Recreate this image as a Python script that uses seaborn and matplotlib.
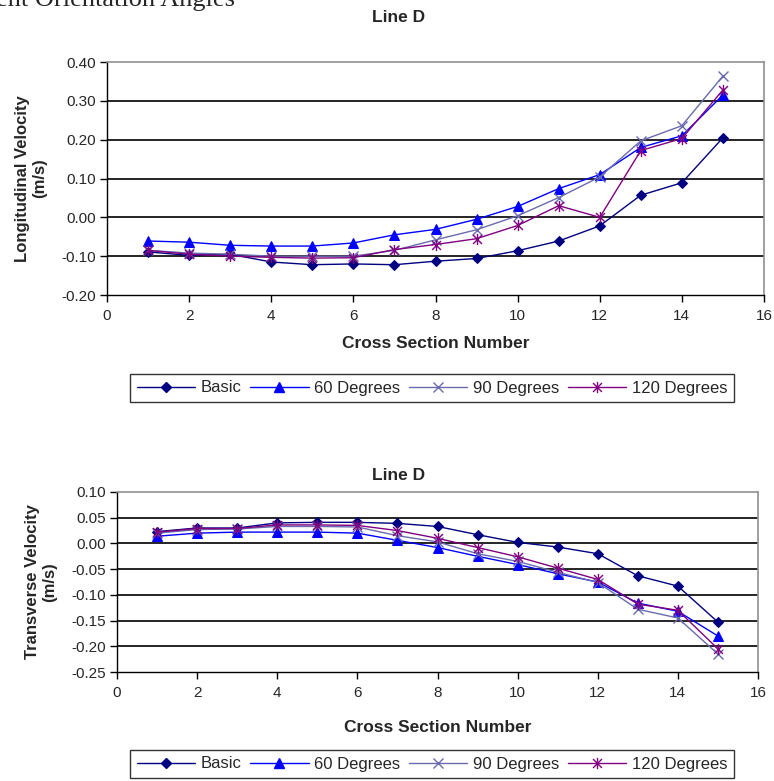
import matplotlib
matplotlib.use("Agg")
import matplotlib.pyplot as plt
from matplotlib.path import Path
from matplotlib.lines import Line2D
import seaborn as sns

sns.set_style("white")
plt.rcParams['font.family'] = ['Liberation Sans', 'DejaVu Sans']

cross_section = [1, 2, 3, 4, 5, 6, 7, 8, 9, 10, 11, 12, 13, 14, 15]
series_names = ["Basic", "60 Degrees", "90 Degrees", "120 Degrees"]

long_basic = [-0.089, -0.098, -0.095, -0.115, -0.122, -0.120, -0.122, -0.113, -0.106, -0.086, -0.061, -0.022, 0.057, 0.089, 0.205]
long_60 = [-0.061, -0.064, -0.072, -0.074, -0.074, -0.066, -0.045, -0.031, -0.005, 0.028, 0.074, 0.110, 0.180, 0.210, 0.315]
long_90 = [-0.085, -0.092, -0.095, -0.100, -0.100, -0.100, -0.085, -0.058, -0.032, 0.004, 0.051, 0.104, 0.197, 0.236, 0.364]
long_120 = [-0.085, -0.095, -0.100, -0.103, -0.105, -0.104, -0.083, -0.070, -0.055, -0.021, 0.030, 0.000, 0.172, 0.203, 0.328]

trans_basic = [0.023, 0.030, 0.030, 0.040, 0.041, 0.041, 0.039, 0.033, 0.017, 0.002, -0.007, -0.020, -0.063, -0.083, -0.153]
trans_60 = [0.014, 0.020, 0.022, 0.022, 0.022, 0.020, 0.006, -0.008, -0.025, -0.041, -0.059, -0.075, -0.116, -0.132, -0.180]
trans_90 = [0.020, 0.027, 0.028, 0.033, 0.033, 0.032, 0.015, 0.003, -0.020, -0.035, -0.056, -0.076, -0.128, -0.145, -0.215]
trans_120 = [0.022, 0.029, 0.029, 0.036, 0.036, 0.035, 0.025, 0.010, -0.008, -0.026, -0.048, -0.070, -0.118, -0.130, -0.205]

long_yticks = [-0.20, -0.10, 0.00, 0.10, 0.20, 0.30, 0.40]
trans_yticks = [-0.25, -0.20, -0.15, -0.10, -0.05, 0.00, 0.05, 0.10]
xticks = [0, 2, 4, 6, 8, 10, 12, 14, 16]

star = Path([(0, -1), (0, 1), (-0.8, -0.8), (0.8, 0.8), (-0.8, 0.8), (0.8, -0.8)],
            [Path.MOVETO, Path.LINETO, Path.MOVETO, Path.LINETO, Path.MOVETO, Path.LINETO])

styles = [
    dict(color="#000080", marker="D", markersize=5.5, mfc="#000080", mec="#000080"),
    dict(color="#0000FF", marker="^", markersize=7, mfc="#0000FF", mec="#0000FF"),
    dict(color="#6A6AB0", marker="x", markersize=7, mfc="none", mec="#6A6AB0", mew=1.0),
    dict(color="#800080", marker=star, markersize=8, mfc="none", mec="#800080", mew=1.0),
]

fig = plt.figure(figsize=(7.74, 7.81), dpi=100)
W, H = 774, 781

def px_axes(l, t, r, b):
    return fig.add_axes([l / W, 1 - b / H, (r - l) / W, (b - t) / H])

def draw(ax, box, data, yticks, ylabel, ylab_x, xlab_y):
    l, t, r, b = box
    for name, vals, st in zip(series_names, data, styles):
        sns.lineplot(x=cross_section, y=vals, ax=ax, lw=1.0, legend=False, **st)
    ax.set_xlim(0, 16)
    ax.set_ylim(yticks[0], yticks[-1])
    ax.set_xticks(xticks)
    ax.set_yticks(yticks)
    ax.set_yticklabels([f"{v:.2f}" for v in yticks], fontsize=11)
    ax.set_xticklabels([str(v) for v in xticks], fontsize=11)
    for y in yticks[1:-1]:
        ax.axhline(y, color="black", lw=1.2, zorder=0)
    for s in ["top", "right"]:
        ax.spines[s].set_color("#909090")
        ax.spines[s].set_linewidth(1.2)
    for s in ["left", "bottom"]:
        ax.spines[s].set_color("black")
        ax.spines[s].set_linewidth(1.0)
    ax.tick_params(axis="both", direction="out", length=5, width=1, color="black",
                   bottom=True, left=True)
    ax.tick_params(axis="x", pad=5)
    ax.tick_params(axis="y", pad=3)
    ax.set_xlabel("Cross Section Number", fontsize=12.5, fontweight="bold", va="center")
    ax.xaxis.set_label_coords(0.5, (b - xlab_y) / (b - t))
    ax.set_ylabel(ylabel, fontsize=12, fontweight="bold", linespacing=1.15, va="center")
    ax.yaxis.set_label_coords((ylab_x - l) / (r - l), 0.5)

box1 = (107, 62, 764, 295)
ax1 = px_axes(*box1)
draw(ax1, box1, [long_basic, long_60, long_90, long_120], long_yticks,
     "Longitudinal Velocity\n(m/s)", 31, 344)
box2 = (117, 492, 758, 672)
ax2 = px_axes(*box2)
draw(ax2, box2, [trans_basic, trans_60, trans_90, trans_120], trans_yticks,
     "Transverse Velocity\n(m/s)", 41, 727)

fig.text(399 / W, 1 - 17 / H, "Line D", ha="center", va="center", fontsize=12.5, fontweight="bold")
fig.text(399 / W, 1 - 476 / H, "Line D", ha="center", va="center", fontsize=12.5, fontweight="bold")
fig.text(-4 / W, 1 - 6 / H, "ent Orientation Angles", ha="left", va="baseline",
         fontsize=19, family=["Liberation Serif", "DejaVu Serif"])

handles = [Line2D([], [], lw=1.0, **st) for st in styles]
for cy in (388, 764):
    leg = fig.legend(handles, series_names, loc="center", bbox_to_anchor=(432 / W, 1 - cy / H),
                     ncol=4, frameon=True, fancybox=False, fontsize=12, handlelength=3.5,
                     columnspacing=0.5, handletextpad=0.35, borderpad=0.4, borderaxespad=0)
    leg.get_frame().set_edgecolor("black")
    leg.get_frame().set_linewidth(1.0)

fig.savefig("out.png", dpi=100)
